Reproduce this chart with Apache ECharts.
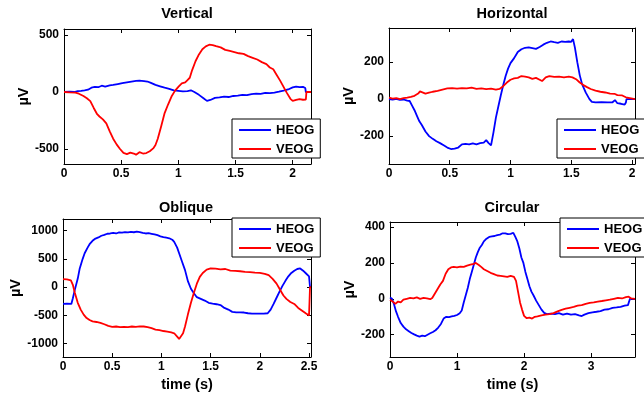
<!DOCTYPE html>
<html>
<head>
<meta charset="utf-8">
<script src="https://cdn.jsdelivr.net/npm/echarts@6/dist/echarts.min.js"></script>
<style>
html,body{margin:0;padding:0;background:#fff;}
#chart{width:644px;height:393px;}
</style>
</head>
<body>
<div id="chart"></div>
<script>
// ---- data ----
const titles = ['Vertical', 'Horizontal', 'Oblique', 'Circular'];
const seriesNames = ['HEOG', 'VEOG'];

const xTicks = [
  [0, 0.5, 1, 1.5, 2],
  [0, 0.5, 1, 1.5, 2],
  [0, 0.5, 1, 1.5, 2, 2.5],
  [0, 1, 2, 3]
];
const yTicks = [
  [-500, 0, 500],
  [-200, 0, 200],
  [-1000, -500, 0, 500, 1000],
  [-200, 0, 200, 400]
];
const xRanges = [[0, 2.16], [0, 2.025], [0, 2.52], [0, 3.655]];
const yRanges = [[-632, 553], [-351, 385], [-1241, 1207], [-324, 428]];

// [time (s), µV]
const verticalHEOG = [[0,0],[0.05,2],[0.09,0],[0.12,8],[0.15,10],[0.18,14],[0.21,20],[0.24,38],[0.27,45],[0.30,42],[0.33,55],[0.36,48],[0.40,58],[0.43,62],[0.47,70],[0.51,78],[0.55,85],[0.59,92],[0.63,98],[0.66,100],[0.70,96],[0.73,92],[0.76,80],[0.80,62],[0.84,50],[0.88,38],[0.92,28],[0.96,15],[1.00,10],[1.04,5],[1.08,8],[1.11,15],[1.14,0],[1.18,-25],[1.22,-55],[1.25,-78],[1.28,-70],[1.32,-52],[1.36,-48],[1.40,-40],[1.44,-44],[1.48,-35],[1.52,-32],[1.56,-26],[1.60,-28],[1.64,-18],[1.68,-15],[1.72,-16],[1.76,-8],[1.80,-10],[1.84,-5],[1.88,3],[1.92,12],[1.96,22],[2.00,40],[2.03,48],[2.06,42],[2.09,45],[2.11,35],[2.115,0],[2.16,0]];
const verticalVEOG = [[0,0],[0.05,-3],[0.10,-5],[0.13,-15],[0.17,-35],[0.20,-55],[0.23,-80],[0.26,-140],[0.29,-195],[0.31,-215],[0.34,-240],[0.37,-275],[0.40,-345],[0.43,-410],[0.46,-460],[0.49,-500],[0.52,-535],[0.55,-545],[0.58,-532],[0.61,-540],[0.63,-550],[0.66,-528],[0.69,-540],[0.72,-536],[0.75,-520],[0.78,-495],[0.80,-465],[0.82,-410],[0.85,-300],[0.88,-185],[0.91,-110],[0.94,-40],[0.97,10],[1.00,45],[1.03,75],[1.06,85],[1.08,105],[1.10,125],[1.12,190],[1.15,270],[1.18,330],[1.21,375],[1.24,400],[1.27,415],[1.30,412],[1.33,402],[1.37,392],[1.41,370],[1.45,360],[1.49,350],[1.53,340],[1.57,335],[1.61,315],[1.65,300],[1.69,285],[1.73,262],[1.77,245],[1.80,215],[1.83,200],[1.86,150],[1.89,100],[1.92,45],[1.95,-10],[1.98,-60],[2.00,-78],[2.03,-70],[2.06,-62],[2.09,-68],[2.115,-66],[2.12,0],[2.16,0]];

const horizontalHEOG = [[0,0],[0.03,-3],[0.06,2],[0.09,-4],[0.12,-2],[0.15,-8],[0.17,-10],[0.19,-35],[0.21,-60],[0.23,-90],[0.25,-120],[0.27,-140],[0.30,-175],[0.33,-200],[0.36,-215],[0.39,-228],[0.42,-238],[0.45,-250],[0.48,-262],[0.51,-270],[0.54,-268],[0.57,-262],[0.60,-245],[0.63,-242],[0.66,-245],[0.69,-240],[0.72,-245],[0.75,-238],[0.78,-235],[0.80,-222],[0.82,-238],[0.84,-250],[0.86,-180],[0.88,-100],[0.90,-40],[0.92,20],[0.94,75],[0.96,125],[0.98,165],[1.00,195],[1.03,222],[1.06,255],[1.09,270],[1.12,278],[1.15,280],[1.18,276],[1.21,272],[1.24,282],[1.27,295],[1.30,305],[1.33,312],[1.36,308],[1.39,305],[1.42,312],[1.45,310],[1.48,312],[1.50,310],[1.515,325],[1.53,280],[1.55,200],[1.57,130],[1.59,80],[1.62,35],[1.65,0],[1.67,-15],[1.70,-18],[1.75,-16],[1.80,-18],[1.84,-17],[1.86,-5],[1.88,-22],[1.91,-25],[1.94,-30],[1.95,-18],[1.955,0],[2.025,0]];
const horizontalVEOG = [[0,8],[0.03,3],[0.06,6],[0.09,0],[0.12,5],[0.15,8],[0.18,12],[0.21,18],[0.24,30],[0.255,42],[0.27,32],[0.30,30],[0.33,35],[0.36,40],[0.40,45],[0.44,52],[0.48,58],[0.52,60],[0.56,57],[0.60,60],[0.64,58],[0.68,62],[0.72,56],[0.76,58],[0.80,54],[0.84,57],[0.88,52],[0.91,55],[0.94,70],[0.97,90],[1.00,105],[1.03,112],[1.06,115],[1.09,125],[1.12,122],[1.15,118],[1.18,110],[1.21,115],[1.24,105],[1.26,98],[1.29,118],[1.32,125],[1.36,120],[1.40,122],[1.44,118],[1.48,122],[1.51,118],[1.54,108],[1.57,90],[1.60,76],[1.63,65],[1.66,55],[1.70,46],[1.74,40],[1.78,36],[1.82,30],[1.86,28],[1.88,22],[1.92,20],[1.95,10],[1.955,0],[2.025,0]];

const obliqueHEOG = [[0,-300],[0.04,-295],[0.085,-300],[0.10,-200],[0.12,-50],[0.15,150],[0.17,330],[0.20,500],[0.22,600],[0.25,700],[0.27,760],[0.30,820],[0.33,860],[0.36,880],[0.39,910],[0.42,925],[0.45,945],[0.48,950],[0.51,960],[0.54,950],[0.57,968],[0.60,965],[0.63,975],[0.66,970],[0.69,980],[0.72,972],[0.75,982],[0.78,975],[0.81,960],[0.84,950],[0.87,955],[0.90,945],[0.93,935],[0.96,920],[0.99,900],[1.02,885],[1.05,875],[1.08,865],[1.11,840],[1.13,800],[1.16,700],[1.18,600],[1.21,450],[1.24,300],[1.27,100],[1.30,-30],[1.33,-110],[1.36,-180],[1.40,-210],[1.44,-240],[1.48,-280],[1.52,-295],[1.56,-305],[1.60,-320],[1.64,-370],[1.68,-400],[1.72,-440],[1.76,-450],[1.80,-448],[1.84,-452],[1.88,-465],[1.92,-470],[1.96,-472],[2.00,-470],[2.04,-472],[2.08,-465],[2.11,-400],[2.14,-300],[2.17,-190],[2.20,-80],[2.23,20],[2.26,110],[2.29,190],[2.32,250],[2.35,290],[2.38,320],[2.41,330],[2.44,290],[2.47,240],[2.50,190],[2.51,0],[2.52,0]];
const obliqueVEOG = [[0,140],[0.04,135],[0.08,120],[0.10,40],[0.12,-100],[0.15,-280],[0.18,-400],[0.21,-490],[0.24,-550],[0.27,-585],[0.30,-610],[0.34,-620],[0.38,-635],[0.42,-660],[0.46,-690],[0.50,-705],[0.54,-700],[0.58,-712],[0.62,-705],[0.66,-710],[0.70,-700],[0.74,-705],[0.78,-698],[0.82,-700],[0.86,-710],[0.90,-730],[0.94,-755],[0.98,-765],[1.02,-780],[1.06,-790],[1.10,-805],[1.13,-820],[1.16,-880],[1.18,-920],[1.20,-900],[1.22,-820],[1.24,-700],[1.27,-480],[1.30,-280],[1.33,-100],[1.36,60],[1.39,180],[1.42,250],[1.46,310],[1.50,330],[1.55,325],[1.60,315],[1.65,320],[1.70,290],[1.75,285],[1.80,280],[1.85,270],[1.90,265],[1.95,255],[2.00,250],[2.05,235],[2.09,210],[2.13,145],[2.17,60],[2.20,-30],[2.24,-150],[2.27,-210],[2.31,-265],[2.35,-300],[2.39,-370],[2.43,-420],[2.47,-470],[2.50,-505],[2.51,0],[2.52,0]];

const circularHEOG = [[0,8],[0.03,0],[0.06,-30],[0.09,-70],[0.12,-100],[0.16,-135],[0.20,-155],[0.24,-170],[0.28,-180],[0.32,-190],[0.36,-198],[0.40,-205],[0.44,-210],[0.48,-205],[0.52,-208],[0.56,-200],[0.60,-192],[0.64,-185],[0.68,-175],[0.72,-160],[0.76,-140],[0.80,-110],[0.84,-100],[0.88,-102],[0.92,-98],[0.96,-95],[1.00,-90],[1.04,-80],[1.07,-65],[1.10,-20],[1.13,20],[1.16,60],[1.19,110],[1.22,150],[1.25,190],[1.28,230],[1.31,260],[1.34,285],[1.37,300],[1.40,320],[1.44,335],[1.48,345],[1.52,348],[1.56,350],[1.60,355],[1.64,358],[1.68,365],[1.72,365],[1.76,360],[1.80,362],[1.84,368],[1.87,345],[1.90,320],[1.93,280],[1.96,230],[1.99,200],[2.02,150],[2.05,110],[2.08,70],[2.11,40],[2.14,20],[2.18,-10],[2.22,-35],[2.26,-60],[2.30,-78],[2.34,-85],[2.40,-82],[2.46,-85],[2.52,-80],[2.58,-88],[2.64,-82],[2.70,-88],[2.76,-85],[2.82,-92],[2.86,-96],[2.90,-88],[2.96,-80],[3.02,-75],[3.08,-72],[3.14,-68],[3.20,-60],[3.26,-58],[3.32,-50],[3.38,-48],[3.44,-45],[3.50,-38],[3.55,-35],[3.57,-30],[3.58,0],[3.655,0]];
const circularVEOG = [[0,-5],[0.04,-15],[0.08,-28],[0.12,-15],[0.16,-20],[0.20,-5],[0.25,0],[0.30,5],[0.35,2],[0.40,8],[0.45,0],[0.50,5],[0.55,2],[0.60,-2],[0.63,5],[0.67,30],[0.71,55],[0.75,80],[0.79,100],[0.83,140],[0.87,165],[0.91,175],[0.95,178],[1.00,175],[1.05,180],[1.10,178],[1.15,185],[1.20,190],[1.25,195],[1.28,200],[1.32,190],[1.36,178],[1.40,165],[1.45,155],[1.50,145],[1.55,138],[1.60,130],[1.65,128],[1.70,125],[1.75,122],[1.80,128],[1.85,122],[1.88,100],[1.91,40],[1.94,-20],[1.97,-60],[2.00,-95],[2.04,-108],[2.08,-105],[2.12,-110],[2.16,-100],[2.20,-98],[2.26,-92],[2.32,-88],[2.38,-85],[2.44,-80],[2.50,-70],[2.56,-62],[2.62,-55],[2.68,-50],[2.74,-45],[2.80,-38],[2.86,-35],[2.92,-28],[2.98,-22],[3.04,-20],[3.10,-15],[3.16,-12],[3.22,-8],[3.28,-5],[3.34,0],[3.40,5],[3.46,2],[3.52,10],[3.56,12],[3.60,2],[3.655,0]];

const panelData = [
  [verticalHEOG, verticalVEOG],
  [horizontalHEOG, horizontalVEOG],
  [obliqueHEOG, obliqueVEOG],
  [circularHEOG, circularVEOG]
];

// ---- layout ----
const grids = [
  {left: 64, top: 29, width: 247, height: 135},
  {left: 389, top: 28, width: 246, height: 136},
  {left: 63, top: 219, width: 248, height: 138},
  {left: 390, top: 222, width: 245, height: 135}
];
const titlePos = [[187, 6], [512, 6], [186, 200], [512, 200]];
const legendPos = [[232, 119], [557, 119], [232, 218], [560, 218]];
const yNameGap = [29, 32, 29, 32];
const colors = ['#0000ff', '#ff0000'];
const FONT = 'Liberation Sans, Arial, Helvetica, sans-serif';

const xAxes = [], yAxes = [], series = [], legends = [], titleArr = [];
for (let i = 0; i < 4; i++) {
  const lineStyle = {color: '#000', width: 1};
  const tickBase = {inside: true, length: 4, lineStyle: {color: '#000', width: 1}};
  const bottom = i >= 2;
  xAxes.push({
    type: 'value', gridIndex: i, position: 'bottom',
    min: xRanges[i][0], max: xRanges[i][1],
    axisLine: {show: true, onZero: false, lineStyle},
    axisTick: Object.assign({customValues: xTicks[i]}, tickBase),
    axisLabel: {customValues: xTicks[i], color: '#000', fontSize: 12, fontWeight: 'bold', fontFamily: FONT, margin: 4, formatter: v => String(v)},
    splitLine: {show: false},
    name: bottom ? 'time (s)' : '',
    nameLocation: 'middle', nameGap: 20,
    nameTextStyle: {color: '#000', fontSize: 14.5, fontWeight: 'bold', fontFamily: FONT}
  });
  xAxes.push({
    type: 'value', gridIndex: i, position: 'top',
    min: xRanges[i][0], max: xRanges[i][1],
    axisLine: {show: true, onZero: false, lineStyle},
    axisTick: Object.assign({customValues: xTicks[i]}, tickBase),
    axisLabel: {show: false},
    splitLine: {show: false}
  });
  yAxes.push({
    type: 'value', gridIndex: i, position: 'left',
    min: yRanges[i][0], max: yRanges[i][1],
    axisLine: {show: true, onZero: false, lineStyle},
    axisTick: Object.assign({customValues: yTicks[i]}, tickBase),
    axisLabel: {customValues: yTicks[i], color: '#000', fontSize: 12, fontWeight: 'bold', fontFamily: FONT, margin: 5, formatter: v => String(v)},
    splitLine: {show: false},
    name: 'µV', nameLocation: 'middle', nameRotate: 90, nameGap: yNameGap[i],
    nameTextStyle: {color: '#000', fontSize: 14.5, fontWeight: 'bold', fontFamily: FONT}
  });
  yAxes.push({
    type: 'value', gridIndex: i, position: 'right',
    min: yRanges[i][0], max: yRanges[i][1],
    axisLine: {show: true, onZero: false, lineStyle},
    axisTick: Object.assign({customValues: yTicks[i]}, tickBase),
    axisLabel: {show: false},
    splitLine: {show: false}
  });
  for (let s = 0; s < 2; s++) {
    series.push({
      type: 'line', name: seriesNames[s],
      xAxisIndex: 2 * i, yAxisIndex: 2 * i,
      data: panelData[i][s],
      symbol: 'none', showSymbol: false,
      lineStyle: {color: colors[s], width: 1.8},
      itemStyle: {color: colors[s]},
      z: 2 + s
    });
  }
  legends.push({
    data: seriesNames, orient: 'vertical',
    left: legendPos[i][0], top: legendPos[i][1],
    icon: 'rect',
    itemWidth: 32, itemHeight: 2, itemGap: 5,
    padding: [4, 6, 2, 7],
    backgroundColor: '#fff', borderColor: '#000', borderWidth: 1,
    selectedMode: false,
    textStyle: {color: '#000', fontSize: 13, lineHeight: 14, fontWeight: 'bold', fontFamily: FONT}
  });
  titleArr.push({
    text: titles[i], left: titlePos[i][0], top: titlePos[i][1],
    textAlign: 'center', padding: 0,
    textStyle: {color: '#000', fontSize: 14.5, fontWeight: 'bold', fontFamily: FONT}
  });
}

const chart = echarts.init(document.getElementById('chart'), null, {renderer: 'canvas'});
chart.setOption({
  backgroundColor: '#fff',
  animation: false,
  title: titleArr,
  grid: grids,
  xAxis: xAxes,
  yAxis: yAxes,
  legend: legends,
  series: series
});
</script>
</body>
</html>
